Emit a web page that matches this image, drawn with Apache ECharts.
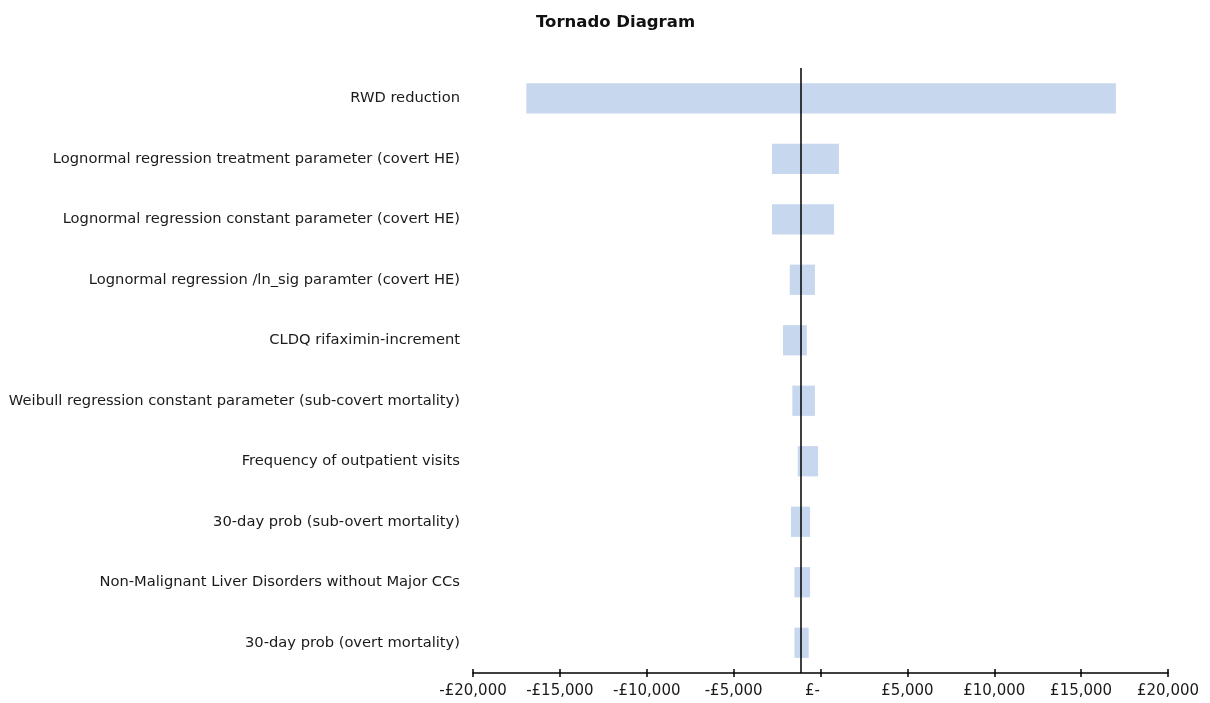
<!DOCTYPE html>
<html>
<head>
<meta charset="utf-8">
<script src="https://cdn.jsdelivr.net/npm/echarts@6/dist/echarts.min.js"></script>
<style>
html,body{margin:0;padding:0;background:#fff;}
#chart{width:1210px;height:703px;}
</style>
</head>
<body>
<div id="chart"></div>
<script>
const categories = [
  'RWD reduction',
  'Lognormal regression treatment parameter (covert HE)',
  'Lognormal regression constant parameter (covert HE)',
  'Lognormal regression /ln_sig paramter (covert HE)',
  'CLDQ rifaximin-increment',
  'Weibull regression constant parameter (sub-covert mortality)',
  'Frequency of outpatient visits',
  '30-day prob (sub-overt mortality)',
  'Non-Malignant Liver Disorders without Major CCs',
  '30-day prob (overt mortality)'
];
const lowValues  = [-16930, -2790, -2790, -1770, -2160, -1620, -1310, -1700, -1500, -1500];
const highValues = [ 17000,  1060,   780,  -320,  -790,  -320,  -140,  -600,  -600,  -680];
const baseCase = -1150;
const xTicks = { min: -20000, max: 20000, interval: 5000 };

const fmt = v => {
  if (v === 0) return '{z|£-}';
  const s = '£' + Math.abs(v).toLocaleString('en-GB');
  return v < 0 ? '-' + s : s;
};

const chart = echarts.init(document.getElementById('chart'), null, {renderer: 'canvas'});
const data = categories.map((c, i) => [i, lowValues[i], highValues[i]]);

chart.setOption({
  animation: false,
  backgroundColor: '#ffffff',
  title: {
    text: 'Tornado Diagram',
    left: 531, top: 9,
    textStyle: {fontFamily: 'DejaVu Sans', fontWeight: 'bold', fontSize: 16.5, color: '#111'}
  },
  grid: {left: 473, right: 42, top: 68, bottom: 30, containLabel: false},
  xAxis: [{
    type: 'value', min: xTicks.min, max: xTicks.max, interval: xTicks.interval,
    position: 'bottom',
    axisLine: {show: true, lineStyle: {color: '#000', width: 1.5}},
    axisTick: {show: true, inside: false, length: 4, lineStyle: {color: '#000', width: 1.5}},
    splitLine: {show: false},
    axisLabel: {
      margin: 11, formatter: fmt, color: '#1a1a1a',
      fontFamily: 'DejaVu Sans', fontSize: 15,
      rich: {z: {fontFamily: 'DejaVu Sans', fontSize: 15, color: '#1a1a1a', padding: [0, 16, 0, 0]}}
    }
  }, {
    type: 'value', min: xTicks.min, max: xTicks.max, interval: xTicks.interval,
    position: 'bottom', offset: 0,
    axisLine: {show: false},
    axisTick: {show: true, inside: true, length: 4, lineStyle: {color: '#000', width: 1.5}},
    splitLine: {show: false},
    axisLabel: {show: false}
  }],
  yAxis: {
    type: 'category', data: categories, inverse: true,
    axisLine: {show: false}, axisTick: {show: false}, splitLine: {show: false},
    axisLabel: {margin: 13, color: '#1a1a1a', fontFamily: 'DejaVu Sans', fontSize: 14.7}
  },
  series: [{
    type: 'custom',
    xAxisIndex: 0,
    encode: {x: [1, 2], y: 0},
    data: data,
    renderItem: function (params, api) {
      const lo = api.coord([api.value(1), api.value(0)]);
      const hi = api.coord([api.value(2), api.value(0)]);
      const h = api.size([0, 1])[1] * 0.5;
      return {
        type: 'rect',
        shape: {x: lo[0], y: lo[1] - h / 2, width: hi[0] - lo[0], height: h},
        style: {fill: '#c6d7ee'}
      };
    },
    z: 2
  }, {
    type: 'scatter', xAxisIndex: 0, data: [], silent: true,
    markLine: {
      silent: true, symbol: ['none', 'none'], label: {show: false},
      lineStyle: {color: '#000', width: 1.5, type: 'solid'},
      data: [{xAxis: baseCase}]
    },
    z: 5
  }]
});
</script>
</body>
</html>
